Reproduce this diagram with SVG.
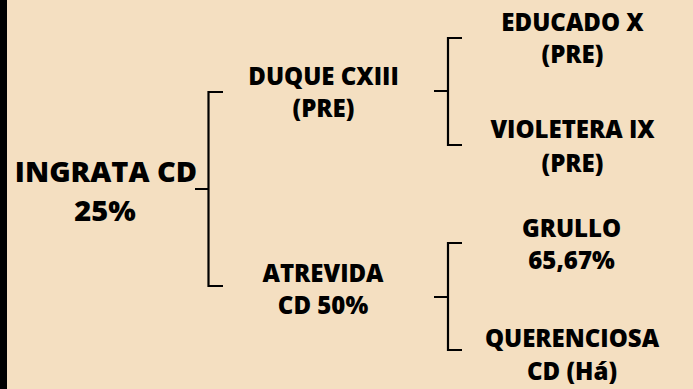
<svg xmlns="http://www.w3.org/2000/svg" width="693" height="389" viewBox="0 0 693 389">
<style>
.t{font-family:"Open Sans","Liberation Sans",sans-serif;font-weight:800;fill:#000;text-anchor:middle}
.l1{font-size:29px}
.l2{font-size:24px}
.c{fill:none;stroke:#000;stroke-width:2.2}
</style>
<rect width="693" height="389" fill="#F4DFC1"/>
<rect width="7" height="389" fill="#000"/>
<g id="connectors">
<path class="c" d="M195,189H208.5M223,92H208.5V286H223"/>
<path class="c" d="M434,91H448M462,38H448V145H462"/>
<path class="c" d="M434,297H448M462,243H448V350H462"/>
</g>
<g id="ingrata"><text class="t l1" x="106" y="182">INGRATA CD</text><text class="t l1" x="105" y="221">25%</text></g>
<g id="duque"><text class="t l2" x="323.5" y="85">DUQUE CXIII</text><text class="t l2" x="323.5" y="117">(PRE)</text></g>
<g id="atrevida"><text class="t l2" x="323" y="282">ATREVIDA</text><text class="t l2" x="323" y="314">CD 50%</text></g>
<g id="educado"><text class="t l2" x="572.5" y="31">EDUCADO X</text><text class="t l2" x="572.5" y="63">(PRE)</text></g>
<g id="violetera"><text class="t l2" x="572.5" y="138">VIOLETERA IX</text><text class="t l2" x="572.5" y="172">(PRE)</text></g>
<g id="grullo"><text class="t l2" x="571.5" y="237">GRULLO</text><text class="t l2" x="571.5" y="269">65,67%</text></g>
<g id="querenciosa"><text class="t l2" x="572" y="347">QUERENCIOSA</text><text class="t l2" x="572" y="380">CD (Há)</text></g>
</svg>
